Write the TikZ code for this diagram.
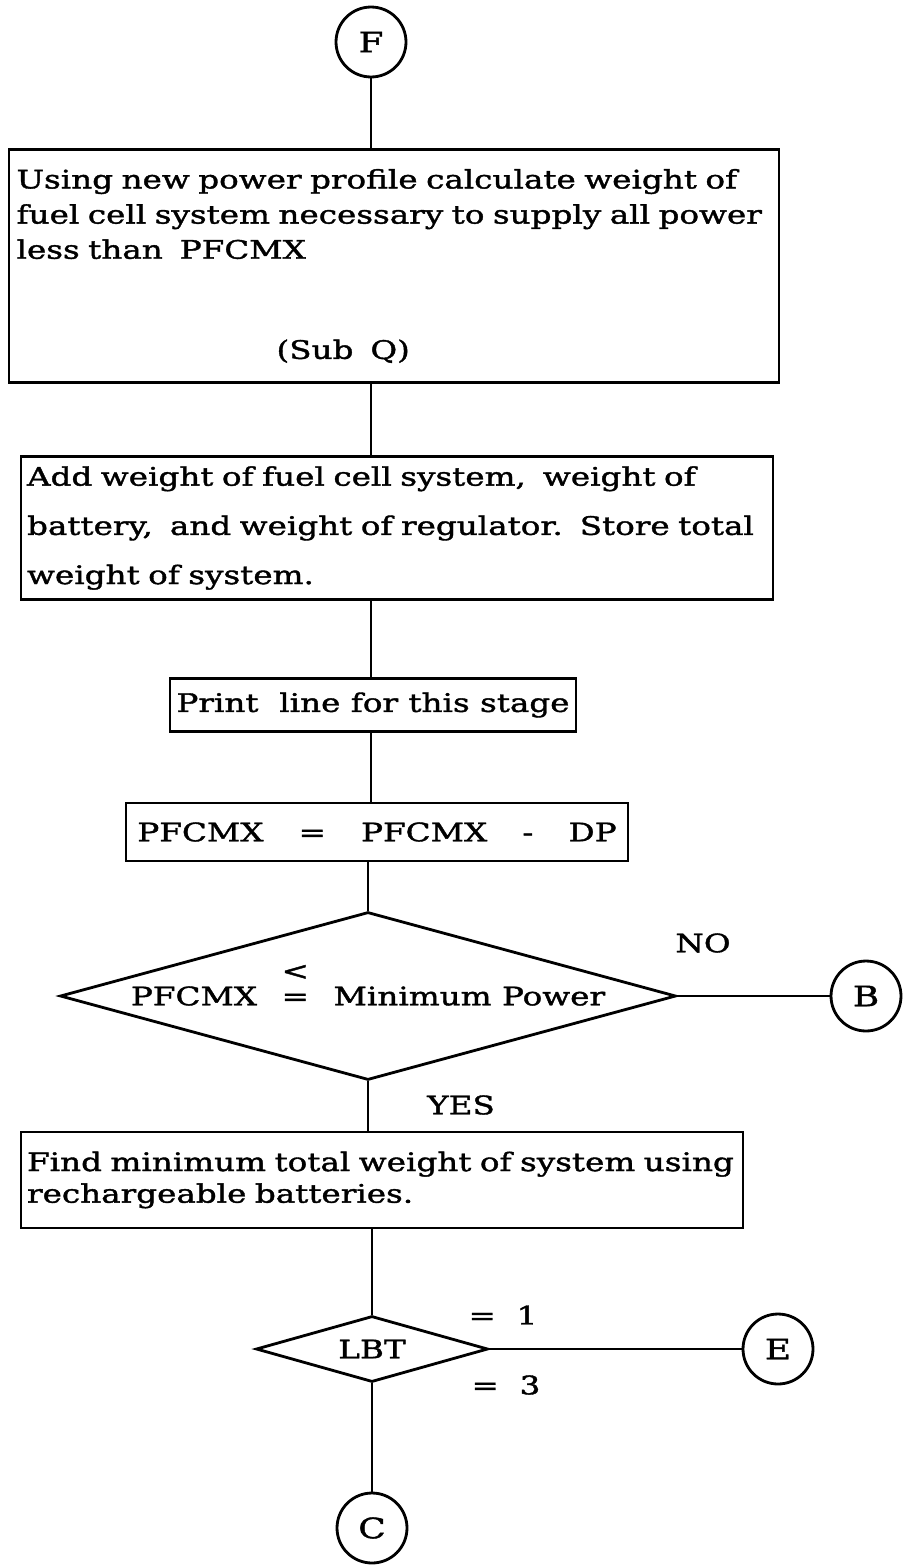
\documentclass[tikz,border=0pt]{standalone}
\usepackage{fontspec}
\setmainfont{DejaVu Serif}[FakeStretch=1.28, FakeBold=1.5]
\usetikzlibrary{shapes.geometric}

\newcommand{\lessoreq}{\rlap{\smash{\raisebox{1.0em}{<}}}=}

\tikzset{
  flow/.style={line width=1.6pt},
  conn/.style={draw, circle, line width=1.6pt, minimum size=1.4cm, inner sep=0pt, font=\fontsize{16}{20}\selectfont},
  procbox/.style={draw, rectangle, line width=1.6pt, inner xsep=0.12cm, inner ysep=0pt, align=left},
  decide/.style={draw, diamond, line width=1.6pt, inner sep=0pt},
  tag/.style={inner sep=0pt}
}

\begin{document}
\begin{tikzpicture}[x=0.02cm, y=-0.02cm, every node/.style={font=\fontsize{14.5}{20}\selectfont}]
  \useasboundingbox (0,0) rectangle (903,1565);
  % Nodes
  \node[conn] (F) at (371,42) {F};
  \node[procbox, minimum width=15.4cm, minimum height=4.66cm, text width=15.1cm] (qcalc) at (394,266)
    {Using new power profile calculate weight of\\fuel cell system necessary to supply all power\\less than\ \ PFCMX\\[37pt]\hspace*{5.2cm}(Sub\ \ Q)};
  \node[procbox, minimum width=15cm, minimum height=2.86cm, text width=14.8cm] (sumw) at (397,528)
    {Add weight of fuel cell system,\ \ weight of\\[8pt]battery,\ \ and weight of regulator.\ \ Store total\\[8pt]weight of system.};
  \node[procbox, minimum width=8.12cm, minimum height=1.06cm, align=center] (prt) at (373,705) {Print\ \ line for this stage};
  \node[procbox, minimum width=10.04cm, minimum height=1.16cm] (decr) at (377,832)
    {PFCMX\hspace{20pt}=\hspace{20pt}PFCMX\hspace{20pt}-\hspace{20pt}DP};
  \node[decide, minimum width=12.32cm, minimum height=3.36cm, aspect=3.67] (test) at (368,996)
    {PFCMX\hspace{14pt}\lessoreq\hspace{14pt}Minimum Power};
  \node[conn] (B) at (866,996) {B};
  \node[tag] (no) at (703,943) {NO};
  \node[tag] (yes) at (461,1105) {YES};
  \node[procbox, minimum width=14.4cm, minimum height=1.92cm, text width=14.2cm] (findmin) at (382,1180)
    {Find minimum total weight of system using\\[-2pt]rechargeable batteries.};
  \node[decide, minimum width=4.64cm, minimum height=1.32cm, aspect=3.5] (lbt) at (372,1349) {LBT};
  \node[conn] (E) at (778,1349) {E};
  \node[tag] (one) at (503,1315) {=\ \ 1};
  \node[tag] (three) at (506,1385) {=\ \ 3};
  \node[conn] (C) at (372,1528) {C};

  % Edges
  \draw[flow] (F) -- (F |- qcalc.north);
  \draw[flow] (F |- qcalc.south) -- (F |- sumw.north);
  \draw[flow] (F |- sumw.south) -- (F |- prt.north);
  \draw[flow] (F |- prt.south) -- (F |- decr.north);
  \draw[flow] (test.north |- decr.south) -- (test.north);
  \draw[flow] (test.east) -- (B);
  \draw[flow] (test.south) -- (test.south |- findmin.north);
  \draw[flow] (lbt.north |- findmin.south) -- (lbt.north);
  \draw[flow] (lbt.east) -- (E);
  \draw[flow] (lbt) -- (C);
\end{tikzpicture}
\end{document}
